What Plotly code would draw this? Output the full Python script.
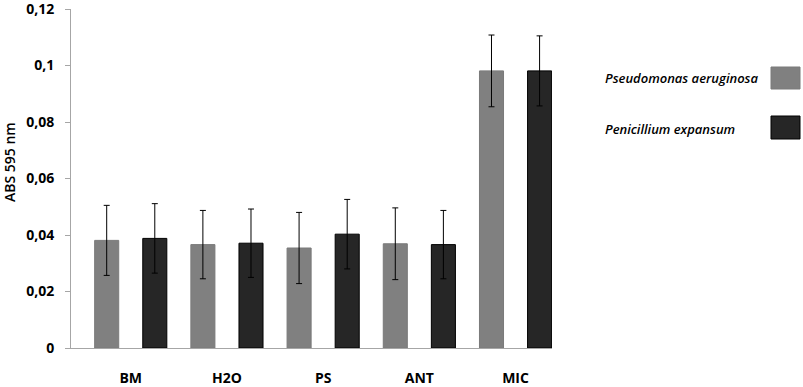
import plotly.graph_objects as go

categories = ["BM", "H2O", "PS", "ANT", "MIC"]
series_names = ["Pseudomonas aeruginosa", "Penicillium expansum"]
pseudomonas = [0.0381, 0.0366, 0.0354, 0.0369, 0.0981]
pseudomonas_err = [0.0124, 0.0121, 0.0126, 0.0127, 0.0127]
penicillium = [0.0388, 0.0371, 0.0403, 0.0366, 0.0981]
penicillium_err = [0.0123, 0.0121, 0.0123, 0.0121, 0.0124]
y_tickvals = [0, 0.02, 0.04, 0.06, 0.08, 0.1, 0.12]
y_ticktext = ["0", "0,02", "0,04", "0,06", "0,08", "0,1", "0,12"]

colors = ["#808080", "#262626"]
borders = ["#7a7a7a", "#000000"]

fig = go.Figure()
for name, vals, errs, c, b in zip(series_names, [pseudomonas, penicillium],
                                  [pseudomonas_err, penicillium_err], colors, borders):
    fig.add_trace(go.Bar(
        x=categories, y=vals, name=name,
        marker=dict(color=c, line=dict(color=b, width=1)),
        error_y=dict(type="data", array=errs, visible=True,
                     color="#000000", thickness=1, width=3),
        showlegend=False,
    ))

L, R, T, B = 71, 251, 9, 39
W, H = 803, 387
pw, ph = W - L - R, H - T - B

def px(x):
    return (x - L) / pw

def py(y):
    return (H - B - y) / ph

fig.update_layout(
    width=W, height=H,
    margin=dict(l=L, r=R, t=T, b=B, autoexpand=False),
    paper_bgcolor="white", plot_bgcolor="white",
    barmode="group", bargap=0, bargroupgap=0.5,
    font=dict(family="Open Sans", color="#000000"),
    xaxis=dict(
        range=[-0.621, 4.379],
        showline=True, linecolor="#a6a6a6", linewidth=1,
        ticks="", showgrid=False, zeroline=False,
        tickfont=dict(size=14, family="Open Sans", weight="bold"),
        ticklabelstandoff=17, automargin=False,
    ),
    yaxis=dict(
        range=[0, 0.12001],
        tickvals=y_tickvals, ticktext=y_ticktext,
        showline=True, linecolor="#a6a6a6", linewidth=1,
        ticks="outside", ticklen=5, tickcolor="#a6a6a6",
        showgrid=False, zeroline=False,
        tickfont=dict(size=14, family="Open Sans", weight="bold"),
        ticklabelstandoff=8,
        ticklabeloverflow="allow", automargin=False,
    ),
)

# y-axis title
fig.add_annotation(text="ABS 595 nm", xref="paper", yref="paper",
                   x=px(9), y=py(162), textangle=-90, showarrow=False,
                   font=dict(size=14, family="Open Sans", weight=600),
                   xanchor="center", yanchor="middle")

# custom legend (text left, swatch right)
legend_rows = [(78, 67, 89), (129, 116, 139)]
for name, c, b, (ty, y0, y1) in zip(series_names, colors, borders, legend_rows):
    fig.add_annotation(text=name, xref="paper", yref="paper",
                       x=px(603), y=py(ty), showarrow=False,
                       xanchor="left", yanchor="middle",
                       font=dict(size=13, family="Open Sans", style="italic", weight=600))
    fig.add_shape(type="rect", xref="paper", yref="paper",
                  x0=px(771), x1=px(800), y0=py(y1), y1=py(y0),
                  fillcolor=c, line=dict(color=b, width=1))

fig.write_html("out.html", config={"displayModeBar": False},
               post_script="document.body.style.margin='0';")
